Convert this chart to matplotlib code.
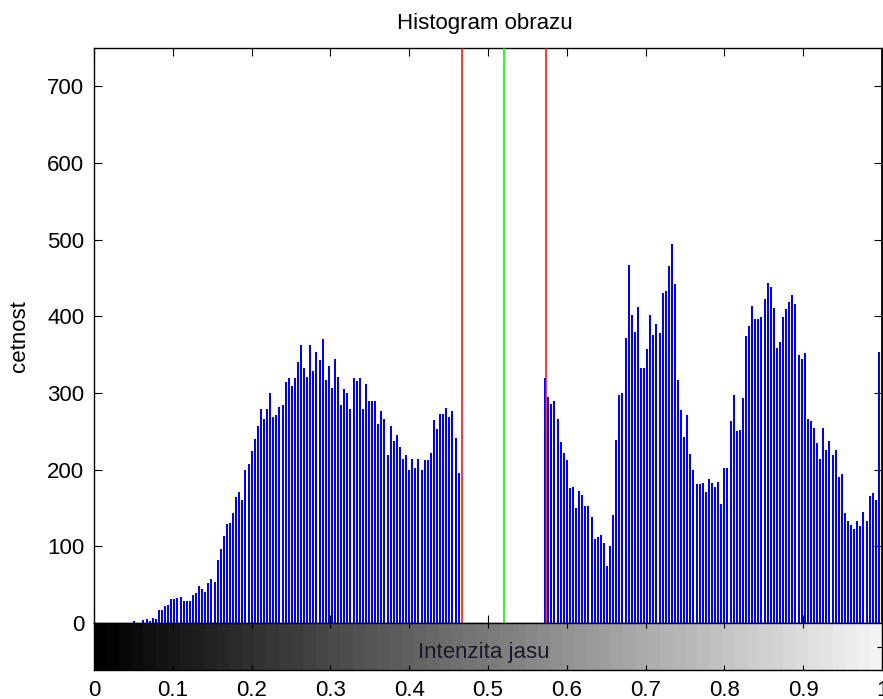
import numpy as np
import matplotlib.pyplot as plt

plt.rcParams['font.family'] = ['Liberation Sans', 'DejaVu Sans']
plt.rcParams['font.size'] = 16

# 256 bins of the grey-level histogram
counts = ([0] * 13 +
          [3, 0, 0, 4, 5, 3, 7, 5, 17, 17, 22, 24, 31, 31, 32, 34, 29, 29, 29, 36,
           39, 48, 45, 41, 52] +
          [57, 53, 82, 96, 114, 129, 131, 143, 164, 171, 160, 199, 207, 224, 240,
           257, 279, 266, 279, 300, 269, 271, 282, 285, 314, 319, 309, 319, 341,
           362, 333, 321, 362, 329, 354, 343, 371, 317, 335, 307, 345] +
          [321, 284, 305, 300, 279, 319, 316, 319, 279, 312, 290, 290, 290, 260,
           276, 266, 219, 257, 238, 245, 229, 214, 219, 200, 214, 202, 214, 200,
           212, 212, 222, 265, 253, 273, 273, 281, 269, 276, 241, 196] +
          [0] * 27 +
          [319, 295, 286, 290, 266, 236, 222, 212, 176, 178, 150, 172, 167, 153,
           153, 138, 110, 112, 115, 105, 74, 100, 141, 239, 298, 300] +
          [372, 467, 402, 380, 412, 333, 333, 357, 402, 376, 390, 378, 430, 433,
           466, 495, 442, 317, 278, 243, 271, 221, 200, 181, 181, 183, 171, 188,
           183, 178, 184, 155, 202, 202] +
          [264, 298, 250, 252, 293, 374, 388, 414, 397, 397, 399, 423, 443, 438,
           411, 359, 366, 399, 409, 419, 428, 416, 349, 344, 352, 266, 264, 255,
           235, 214, 255, 226, 238, 219, 226, 190, 195, 143, 133, 128, 123, 133,
           126, 145, 133, 166, 169, 160, 354, 1600])
counts = np.array(counts)
levels = np.linspace(0, 1, len(counts))

# threshold interval and its centre
t_low, t_high = 0.467, 0.573
t_mid = 0.520

fig = plt.figure(figsize=(8.83, 6.99), dpi=100)
ax = fig.add_axes([94 / 883, 76 / 699, 788 / 883, 575 / 699])
cb = fig.add_axes([94 / 883, 29 / 699, 788 / 883, 47 / 699])

ax.vlines(levels, 0, counts, colors='#0000ff', linewidth=1.45, zorder=3)
ax.axvline(t_low, color='#ff0000', linewidth=1.1, zorder=4)
ax.axvline(t_high, color='#ff0000', linewidth=1.1, zorder=4)
ax.axvline(t_mid, color='#00ee00', linewidth=1.1, zorder=4)

ax.set_xlim(0, 1)
ax.set_ylim(0, 750)
ax.set_xticks(np.arange(0, 1.01, 0.1))
ax.set_yticks(np.arange(0, 701, 100))
ax.tick_params(direction='in', length=5.8, width=0.8, top=True, right=True,
               labelbottom=False, pad=7)
for s in ax.spines.values():
    s.set_linewidth(1.0)

# grey ramp under the histogram
ramp = np.linspace(0, 1, 64).reshape(1, -1)
cb.imshow(ramp, cmap='gray', aspect='auto', extent=[0, 1, 0, 1], vmin=0, vmax=1.05)
cb.set_xlim(0, 1)
cb.set_ylim(0, 1)
cb.set_xticks(np.arange(0, 1.01, 0.1))
cb.set_xticklabels(['0', '0.1', '0.2', '0.3', '0.4', '0.5', '0.6', '0.7', '0.8', '0.9', '1'])
cb.set_yticks([0.5])
cb.tick_params(axis='x', direction='in', length=3.6, width=0.8, top=True, pad=7)
cb.tick_params(axis='y', direction='in', length=3.6, width=0.8, left=False,
               right=True, labelleft=False)
for s in cb.spines.values():
    s.set_linewidth(1.0)
cb.text(0.495, 0.255, 'Intenzita jasu', ha='center', va='baseline', color='#1a1a2a')

fig.text(485 / 883, 1 - 29 / 699, 'Histogram obrazu', ha='center', va='baseline')
fig.text(20 / 883, 1 - 336 / 699, 'cetnost', rotation=90, ha='center', va='center')

fig.savefig('out.png', dpi=100)
